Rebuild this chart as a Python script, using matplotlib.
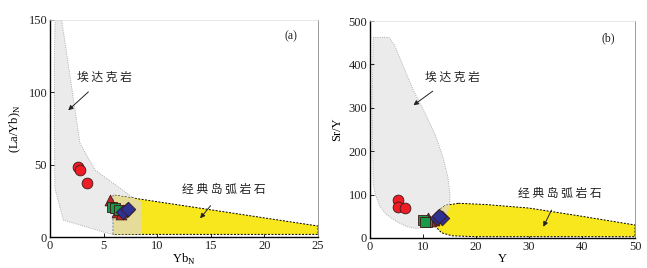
import matplotlib
matplotlib.use('Agg')
import matplotlib.pyplot as plt
from matplotlib.patches import Polygon

# ---- dados ----
# painel (a): YbN x (La/Yb)N
a_circ_x = [2.64, 2.8, 3.48]
a_circ_y = [48.6, 46.3, 37.1]
a_tri_x = [5.6, 6.28, 6.6]
a_tri_y = [25.6, 17.5, 16.0]
a_sq_x = [5.75, 6.06, 6.4]
a_sq_y = [21.0, 19.8, 18.5]
a_dia_x = [7.15, 6.84, 7.3]
a_dia_y = [18.7, 17.5, 19.5]

# campos (a)
a_adakite = [(0.47, 150), (0.4, 115), (0.45, 34), (1.24, 11.7), (5.9, 1.5), (8.5, 1.8),
             (8.5, 24.4), (7.6, 28), (4.2, 46.3), (2.8, 64.7), (1.09, 150)]
a_arc = [(5.9, 1.8), (5.9, 29), (25, 7.6), (25, 1.8)]

# painel (b): Y x Sr/Y
b_circ_x = [5.35, 5.35, 6.6]
b_circ_y = [87.5, 72.0, 68.4]
b_sq_x = [10.06, 10.7, 10.3]
b_sq_y = [41.5, 37.6, 36.0]
b_tri_x = [11.0, 12.0, 11.4]
b_tri_y = [45.0, 41.0, 40.0]
b_dia_x = [12.6, 13.5, 13.0]
b_dia_y = [45.4, 45.4, 50.0]

b_adakite = [(0.6, 462), (3.6, 462), (4.6, 445), (6.2, 398), (8.2, 340), (10.5, 285),
             (12.4, 235), (13.8, 185), (14.7, 140), (15.1, 100), (15.0, 70), (14.3, 50),
             (13, 36), (11, 27), (8.8, 22), (7, 26), (5, 37.6), (3, 55), (1.9, 72),
             (1.0, 100), (0.6, 126), (0.4, 300), (0.6, 462)]
b_arc = [(16.7, 80), (22, 77), (30, 69), (40, 50), (50, 30), (50, 3), (20, 3),
         (15.5, 5), (13.5, 12), (12.5, 25), (12.2, 45), (12.8, 62), (14.2, 75)]

GRAY = '#ebebeb'
YEL = '#f8e71c'
TAN = '#e6dc9a'
serif = 'Liberation Serif'
cjk = ['Noto Sans CJK SC', 'DejaVu Sans']

fig = plt.figure(figsize=(6.47, 2.68), dpi=100)
axa = fig.add_axes([50 / 647, 31 / 268, 268 / 647, 217 / 268])
axb = fig.add_axes([370 / 647, 30 / 268, 265 / 647, 217 / 268])


def campos(ax, adak, arc):
    g = Polygon(adak, closed=True, facecolor=GRAY, edgecolor='#999999', lw=0.6, ls=':', zorder=1)
    ax.add_patch(g)
    y = Polygon(arc, closed=True, facecolor=YEL, edgecolor='black', lw=0.7, ls=(0, (2, 1.5)), zorder=2)
    ax.add_patch(y)
    t = Polygon(adak, closed=True, facecolor=TAN, edgecolor='none', zorder=2.5)
    ax.add_patch(t)
    t.set_clip_path(Polygon(arc, closed=True, transform=ax.transData))


def marcadores(ax, cx, cy, sx, sy, tx, ty, dx, dy):
    kw = dict(edgecolors='#3a1a1a', linewidths=0.6, zorder=5)
    ax.scatter(cx, cy, s=60, marker='o', c='#ee1c25', **kw)
    ax.scatter(tx, ty, s=60, marker='^', c='#c1272d', **kw)
    ax.scatter(sx, sy, s=48, marker='s', c='#1a9a48', **kw)
    ax.scatter(dx, dy, s=55, marker='D', c='#2e3192', **kw)


def eixos(ax, xmax, ymax, xt, yt):
    ax.set_xlim(0, xmax)
    ax.set_ylim(0, ymax)
    ax.set_xticks(xt)
    ax.set_yticks(yt)
    ax.tick_params(direction='in', length=3, width=0.7, labelsize=9, colors='#222222', pad=2)
    for lab in ax.get_xticklabels() + ax.get_yticklabels():
        lab.set_fontfamily(serif)
    for sp in ['left', 'bottom']:
        ax.spines[sp].set_color('black')
        ax.spines[sp].set_linewidth(1.0)
    ax.spines['right'].set_color('#999999')
    ax.spines['right'].set_linewidth(0.7)
    ax.spines['top'].set_color('#dddddd')
    ax.spines['top'].set_linewidth(0.5)


def seta(ax, txt, xy, xytext):
    ax.annotate(txt, xy=xy, xytext=xytext, family=cjk, fontsize=8.5,
                ha='center', va='center', color='#222222',
                arrowprops=dict(arrowstyle='-|>', color='#222222', lw=0.7,
                                mutation_scale=7, shrinkA=6, shrinkB=0))


# ---- painel (a) ----
campos(axa, a_adakite, a_arc)
marcadores(axa, a_circ_x, a_circ_y, a_sq_x, a_sq_y, a_tri_x, a_tri_y, a_dia_x, a_dia_y)
eixos(axa, 25, 150, [0, 5, 10, 15, 20, 25], [0, 50, 100, 150])
axa.set_xlabel('Yb$_{\\mathregular{N}}$', fontfamily=serif, fontsize=9, labelpad=0)
axa.set_ylabel('(La/Yb)$_{\\mathregular{N}}$', fontfamily=serif, fontsize=9, labelpad=4)
seta(axa, '埃 达 克 岩', (1.7, 87.6), (5.1, 110.6))
seta(axa, '经 典 岛 弧 岩 石', (14.0, 12.9), (16.2, 32.5))
axa.text(22.5, 138.8, '(a)', fontfamily=serif, fontsize=8.5, ha='center', va='center', color='#222222')

# ---- painel (b) ----
campos(axb, b_adakite, b_arc)
marcadores(axb, b_circ_x, b_circ_y, b_sq_x, b_sq_y, b_tri_x, b_tri_y, b_dia_x, b_dia_y)
eixos(axb, 50, 500, [0, 10, 20, 30, 40, 50], [0, 100, 200, 300, 400, 500])
axb.set_xlabel('Y', fontfamily=serif, fontsize=9, labelpad=0)
axb.set_ylabel('Sr/Y', fontfamily=serif, fontsize=9, labelpad=4)
seta(axb, '埃 达 克 岩', (8.2, 306), (15.5, 371))
seta(axb, '经 典 岛 弧 岩 石', (32.7, 26), (35.8, 103))
axb.text(45, 460, '(b)', fontfamily=serif, fontsize=8.5, ha='center', va='center', color='#222222')

fig.savefig('out.png', dpi=100)
